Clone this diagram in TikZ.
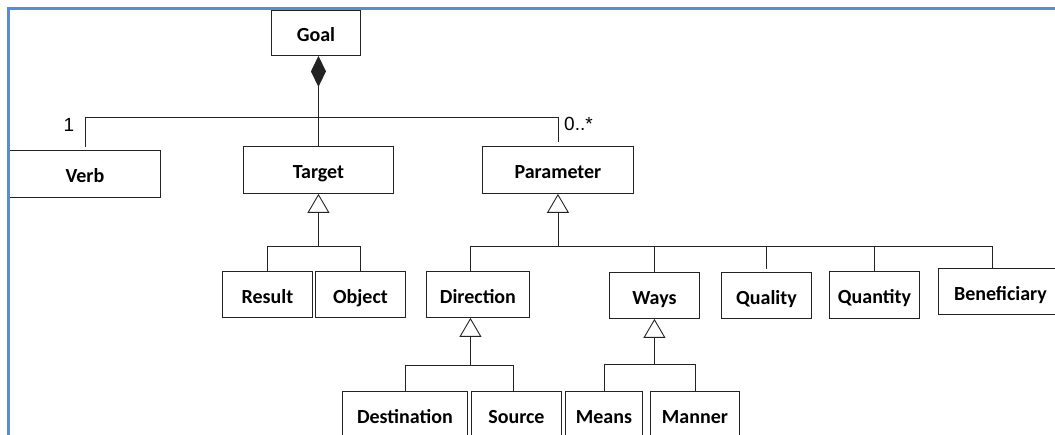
\documentclass[tikz,border=0pt]{standalone}
\usepackage{fontspec}
\setmainfont{Carlito}
\newfontfamily\labelfont{Liberation Sans}
\usetikzlibrary{arrows.meta}
\definecolor{framecol}{RGB}{91,141,206}
\definecolor{linecol}{RGB}{35,35,35}
\begin{document}
\begin{tikzpicture}[x=1bp,y=-1bp,
  box/.style={draw=linecol, line width=0.9bp, anchor=north west, inner sep=0pt,
    text height=20bp, text depth=2bp,
    font=\fontsize{20bp}{24bp}\selectfont\bfseries, fill=white},
  conn/.style={draw=linecol, line width=0.9bp},
  gen/.style={conn, -{Triangle[open, length=19bp, width=22bp, line width=0.9bp]}},
  comp/.style={conn, {Diamond[length=31bp, width=15bp]}-},
  mult/.style={font=\labelfont\fontsize{19bp}{22bp}\selectfont, inner sep=0pt}]
\useasboundingbox (0,0) rectangle (1055,435);
\begin{scope}
\clip (0,0) rectangle (1055,435);
% boxes
\node[box, minimum width=89bp,  minimum height=45bp] (Goal)        at (271,10)  {Goal};
\node[box, minimum width=151bp, minimum height=47bp] (Verb)        at (9,150)   {Verb};
\node[box, minimum width=150bp, minimum height=47bp] (Target)      at (243,146) {Target};
\node[box, minimum width=151bp, minimum height=47bp] (Parameter)   at (482,146) {Parameter};
\node[box, minimum width=90bp,  minimum height=46bp] (Result)      at (222,271) {Result};
\node[box, minimum width=90bp,  minimum height=46bp] (Object)      at (315,271) {Object};
\node[box, minimum width=103bp, minimum height=46bp] (Direction)   at (426,271) {Direction};
\node[box, minimum width=90bp,  minimum height=46bp] (Ways)        at (609,272) {Ways};
\node[box, minimum width=90bp,  minimum height=46bp] (Quality)     at (721,272) {Quality};
\node[box, minimum width=90bp,  minimum height=47bp] (Quantity)    at (829,271) {Quantity};
\node[box, minimum width=124bp, minimum height=46bp] (Beneficiary) at (938,268) {Beneficiary};
\node[box, minimum width=125bp, minimum height=46bp] (Destination) at (342,391) {Destination};
\node[box, minimum width=90bp,  minimum height=46bp] (Source)      at (471,391) {Source};
\node[box, minimum width=77bp,  minimum height=46bp] (Means)       at (565,391) {Means};
\node[box, minimum width=89bp,  minimum height=46bp] (Manner)      at (650,391) {Manner};
% multiplicities
\node[mult] (one) at (69,125) {1};
\node[mult, anchor=west] (many) at (564,124) {0..*};
% composition
\coordinate (topbus) at (318,117);
\draw[comp] (Goal.south -| Target.north) -- (Target.north);
\draw[conn] ([yshift=3bp]Verb.north) -- (Verb.north |- topbus) -- (Parameter.north |- topbus) -- ([yshift=4bp]Parameter.north);
% Target generalization
\coordinate (tbus) at (318,246);
\draw[gen] (Target.south |- tbus) -- (Target.south);
\draw[conn] (Result.north) -- (Result.north |- tbus) -- (Object.north |- tbus) -- (Object.north);
% Parameter generalization
\coordinate (pbus) at (0,246);
\draw[gen] (Parameter.south |- pbus) -- (Parameter.south);
\coordinate (dtop) at ([xshift=-7.5bp]Direction.north);
\coordinate (btop) at ([xshift=-8bp]Beneficiary.north);
\draw[conn] (dtop) -- (dtop |- pbus) -- (btop |- pbus) -- (btop);
\draw[conn] (Ways.north) -- (Ways.north |- pbus);
\draw[conn] ([yshift=3bp]Quality.north) -- (Quality.north |- pbus);
\draw[conn] (Quantity.north) -- (Quantity.north |- pbus);
% Direction generalization
\coordinate (dsouth) at ([xshift=-7.5bp]Direction.south);
\coordinate (dbus) at (0,365);
\draw[gen] (dsouth |- dbus) -- (dsouth);
\draw[conn] (Destination.north) -- (Destination.north |- dbus) -- ([xshift=-3bp]Source.north |- dbus) -- ([xshift=-3bp]Source.north);
% Ways generalization
\coordinate (wbus) at (0,364);
\draw[gen] (Ways.south |- wbus) -- (Ways.south);
\draw[conn] (Means.north) -- (Means.north |- wbus) -- (Manner.north |- wbus) -- (Manner.north);
% frame
\draw[framecol, line width=2.5bp] (8.5,435) -- (8.5,8.5) -- (1055,8.5);
\end{scope}
\end{tikzpicture}
\end{document}
